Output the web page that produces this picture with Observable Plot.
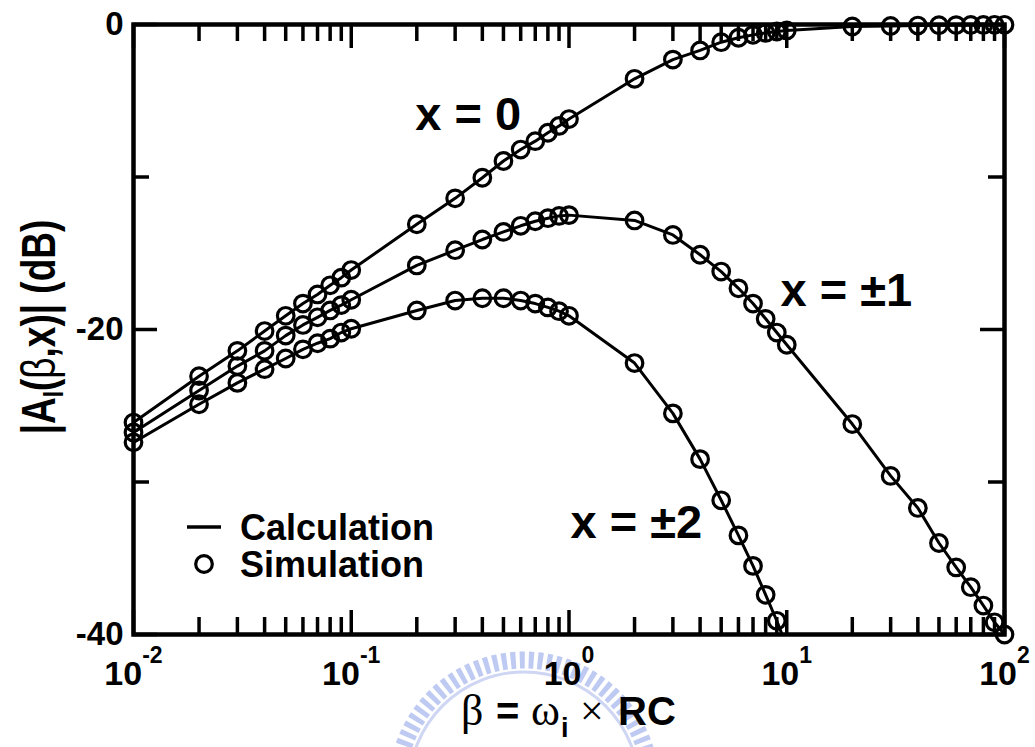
<!DOCTYPE html>
<html>
<head>
<meta charset="utf-8">
<script src="https://cdn.jsdelivr.net/npm/d3@7"></script>
<script src="https://cdn.jsdelivr.net/npm/@observablehq/plot@0.6"></script>
<style>
  html, body { margin: 0; padding: 0; background: #fff; }
</style>
</head>
<body>
<div id="chart"></div>
<script>
// ---- Data ----
const beta = [0.01, 0.02, 0.03, 0.04, 0.05, 0.06, 0.07, 0.08, 0.09,
              0.1, 0.2, 0.3, 0.4, 0.5, 0.6, 0.7, 0.8, 0.9,
              1, 2, 3, 4, 5, 6, 7, 8, 9,
              10, 20, 30, 40, 50, 60, 70, 80, 90, 100];
// |A_I(beta, x)| in dB, x = 0
const dbX0 = [-26.1, -23.06, -21.4, -20.1, -19.1, -18.3, -17.7, -17.1, -16.6,
              -16.1, -13.1, -11.4, -10.05, -8.95, -8.2, -7.65, -7.1, -6.65,
              -6.2, -3.56, -2.3, -1.7, -1.16, -0.87, -0.68, -0.55, -0.46,
              -0.39, -0.13, -0.1, -0.07, -0.05, -0.04, -0.03, -0.03, -0.02, -0.02];
// x = ±1
const dbX1 = [-26.75, -24.0, -22.4, -21.4, -20.4, -19.7, -19.2, -18.75, -18.4,
              -18.05, -15.8, -14.8, -14.1, -13.6, -13.2, -12.9, -12.7, -12.55,
              -12.5, -12.85, -13.8, -15.1, -16.2, -17.3, -18.3, -19.3, -20.2,
              -21.0, -26.2, -29.6, -31.7, -34.0, -35.6, -36.9, -38.1, -39.2, -40.0];
// x = ±2 (falls below the plotted range after beta = 9)
const dbX2 = [-27.4, -24.9, -23.5, -22.6, -21.9, -21.3, -20.9, -20.6, -20.2,
              -19.95, -18.75, -18.1, -17.95, -17.95, -18.1, -18.3, -18.55, -18.8,
              -19.1, -22.2, -25.5, -28.5, -31.2, -33.5, -35.5, -37.4, -39.1,
              -40.8, null, null, null, null, null, null, null, null, null];
const seriesNames = ["x = 0", "x = ±1", "x = ±2"];

// Tick values and labels
const xTickValues = [0.01, 0.1, 1, 10, 100];
const xTickExponents = ["-2", "-1", "0", "1", "2"];
const xMinorTicks = [0.02, 0.03, 0.04, 0.05, 0.06, 0.07, 0.08, 0.09,
                     0.2, 0.3, 0.4, 0.5, 0.6, 0.7, 0.8, 0.9,
                     2, 3, 4, 5, 6, 7, 8, 9,
                     20, 30, 40, 50, 60, 70, 80, 90];
const yTickValues = [0, -20, -40];
const yMinorTicks = [-10, -30];

// Curve annotations
const labelText = ["x = 0", "x = ±1", "x = ±2"];
const labelBeta = [0.197, 9.36, 1.016];
const labelDb = [-6.95, -18.43, -33.64];

const legendItems = ["Calculation", "Simulation"];
const xTitle = {beta: "β", eq: "=", omega: "ω", sub: "i", times: "×", rc: "RC"};
const yTitle = {pre: "|A", sub: "I", open: "(", beta: "β", post: ",x)| (dB)"};

// ---- Build table ----
const rows = [];
beta.forEach((b, i) => {
  [dbX0, dbX1, dbX2].forEach((arr, k) => {
    if (arr[i] != null) rows.push({beta: b, db: arr[i], series: seriesNames[k]});
  });
});
const simRows = rows.filter(d => d.db >= -40);
const labels = labelText.map((t, i) => ({text: t, beta: labelBeta[i], db: labelDb[i]}));

// ---- Layout ----
const W = 1035, H = 747;
const mL = 133, mT = 24, mR = 31, mB = 113;
const innerW = W - mL - mR;
const innerH = H - mT - mB;
const sans = "'Liberation Sans', Arial, Helvetica, sans-serif";
const serif = "'Liberation Serif', 'Times New Roman', serif";
const tickW = 3.5;

const plot = Plot.plot({
  width: W, height: H,
  marginLeft: mL, marginTop: mT, marginRight: mR, marginBottom: mB,
  style: {fontFamily: sans, background: "white", color: "black", overflow: "visible"},
  x: {type: "log", domain: [0.01, 100]},
  y: {domain: [-40, 0]},
  marks: [
    Plot.line(rows, {x: "beta", y: "db", z: "series", stroke: "black", strokeWidth: 3, clip: true}),
    Plot.dot(simRows, {x: "beta", y: "db", r: 8.3, stroke: "black", strokeWidth: 3.2, fill: "none"}),
    // inward ticks on all four sides
    Plot.tickX(xMinorTicks, {x: d => d, insetTop: innerH - 17, stroke: "black", strokeWidth: tickW}),
    Plot.tickX(xMinorTicks, {x: d => d, insetBottom: innerH - 17, stroke: "black", strokeWidth: tickW}),
    Plot.tickX(xTickValues, {x: d => d, insetTop: innerH - 24, stroke: "black", strokeWidth: tickW}),
    Plot.tickX(xTickValues, {x: d => d, insetBottom: innerH - 24, stroke: "black", strokeWidth: tickW}),
    Plot.tickY(yMinorTicks, {y: d => d, insetRight: innerW - 16, stroke: "black", strokeWidth: tickW}),
    Plot.tickY(yMinorTicks, {y: d => d, insetLeft: innerW - 16, stroke: "black", strokeWidth: tickW}),
    Plot.tickY(yTickValues, {y: d => d, insetRight: innerW - 24, stroke: "black", strokeWidth: tickW}),
    Plot.tickY(yTickValues, {y: d => d, insetLeft: innerW - 24, stroke: "black", strokeWidth: tickW}),
    Plot.frame({stroke: "black", strokeWidth: 4.5}),
    Plot.axisX({anchor: "bottom", ticks: xTickValues, tickSize: 0, tickPadding: 26,
      fontSize: 34, fontWeight: "bold", label: null,
      tickFormat: d => xTickExponents[xTickValues.indexOf(d)]}),
    Plot.axisY({anchor: "left", ticks: yTickValues, tickSize: 0, tickPadding: 10,
      fontSize: 33, fontWeight: "bold", label: null,
      tickFormat: d => String(d)}),
    Plot.text(labels, {x: "beta", y: "db", text: "text", textAnchor: "start", lineAnchor: "bottom",
      fontSize: 47, fontWeight: "bold", fill: "black"})
  ]
});

const svg = d3.select(plot);

// Watermark-like faint logo ring behind everything
const wm = svg.insert("g", ":first-child").attr("opacity", 0.8);
wm.append("circle").attr("cx", 524).attr("cy", 787).attr("r", 127)
  .attr("fill", "none").attr("stroke", "#aebdef").attr("stroke-width", 17)
  .attr("stroke-dasharray", "5 4");
wm.append("circle").attr("cx", 524).attr("cy", 787).attr("r", 115)
  .attr("fill", "none").attr("stroke", "#c3cdf2").attr("stroke-width", 3);

// Superscript exponents on the x tick labels: 10^e
svg.selectAll('g[aria-label="x-axis tick label"] text').each(function () {
  const e = this.textContent;
  const t = d3.select(this);
  t.text(null);
  t.append("tspan").text("10");
  t.append("tspan").attr("dy", -22).attr("font-size", 23).text(e);
});

// X axis title
const xt = svg.append("text").attr("y", 725).attr("fill", "black").attr("text-anchor", "start");
xt.append("tspan").attr("x", 461).attr("font-family", serif).attr("font-size", 44).text(xTitle.beta);
xt.append("tspan").attr("x", 496).attr("font-family", sans).attr("font-weight", "bold").attr("font-size", 40).text(xTitle.eq);
xt.append("tspan").attr("x", 531).attr("font-family", serif).attr("font-size", 44).text(xTitle.omega);
xt.append("tspan").attr("x", 561).attr("dy", 12).attr("font-family", sans).attr("font-weight", "bold").attr("font-size", 27).text(xTitle.sub);
xt.append("tspan").attr("x", 580).attr("dy", -12).attr("font-family", serif).attr("font-size", 42).text(xTitle.times);
xt.append("tspan").attr("x", 618).attr("font-family", sans).attr("font-weight", "bold").attr("font-size", 40).text(xTitle.rc);

// Y axis title (rotated)
const yt = svg.append("text")
  .attr("transform", "translate(55,327) rotate(-90) scale(1,1.3)")
  .attr("text-anchor", "middle")
  .attr("font-family", sans).attr("font-weight", "bold").attr("font-size", 37).attr("fill", "black");
yt.append("tspan").text(yTitle.pre);
yt.append("tspan").attr("dy", 6).attr("font-size", 22).text(yTitle.sub);
yt.append("tspan").attr("dy", -6).text(yTitle.open);
yt.append("tspan").attr("font-weight", "normal").text(yTitle.beta);
yt.append("tspan").text(yTitle.post);

// Legend
const lg = svg.append("g").attr("font-family", sans).attr("font-weight", "bold").attr("font-size", 36)
  .attr("fill", "black").attr("text-anchor", "start");
lg.append("line").attr("x1", 187).attr("x2", 221).attr("y1", 527).attr("y2", 527)
  .attr("stroke", "black").attr("stroke-width", 3.5);
lg.append("circle").attr("cx", 204).attr("cy", 564).attr("r", 8.3)
  .attr("fill", "none").attr("stroke", "black").attr("stroke-width", 3.2);
lg.append("text").attr("x", 240).attr("y", 540).text(legendItems[0]);
lg.append("text").attr("x", 240).attr("y", 577).text(legendItems[1]);

document.getElementById("chart").appendChild(plot);
</script>
</body>
</html>
